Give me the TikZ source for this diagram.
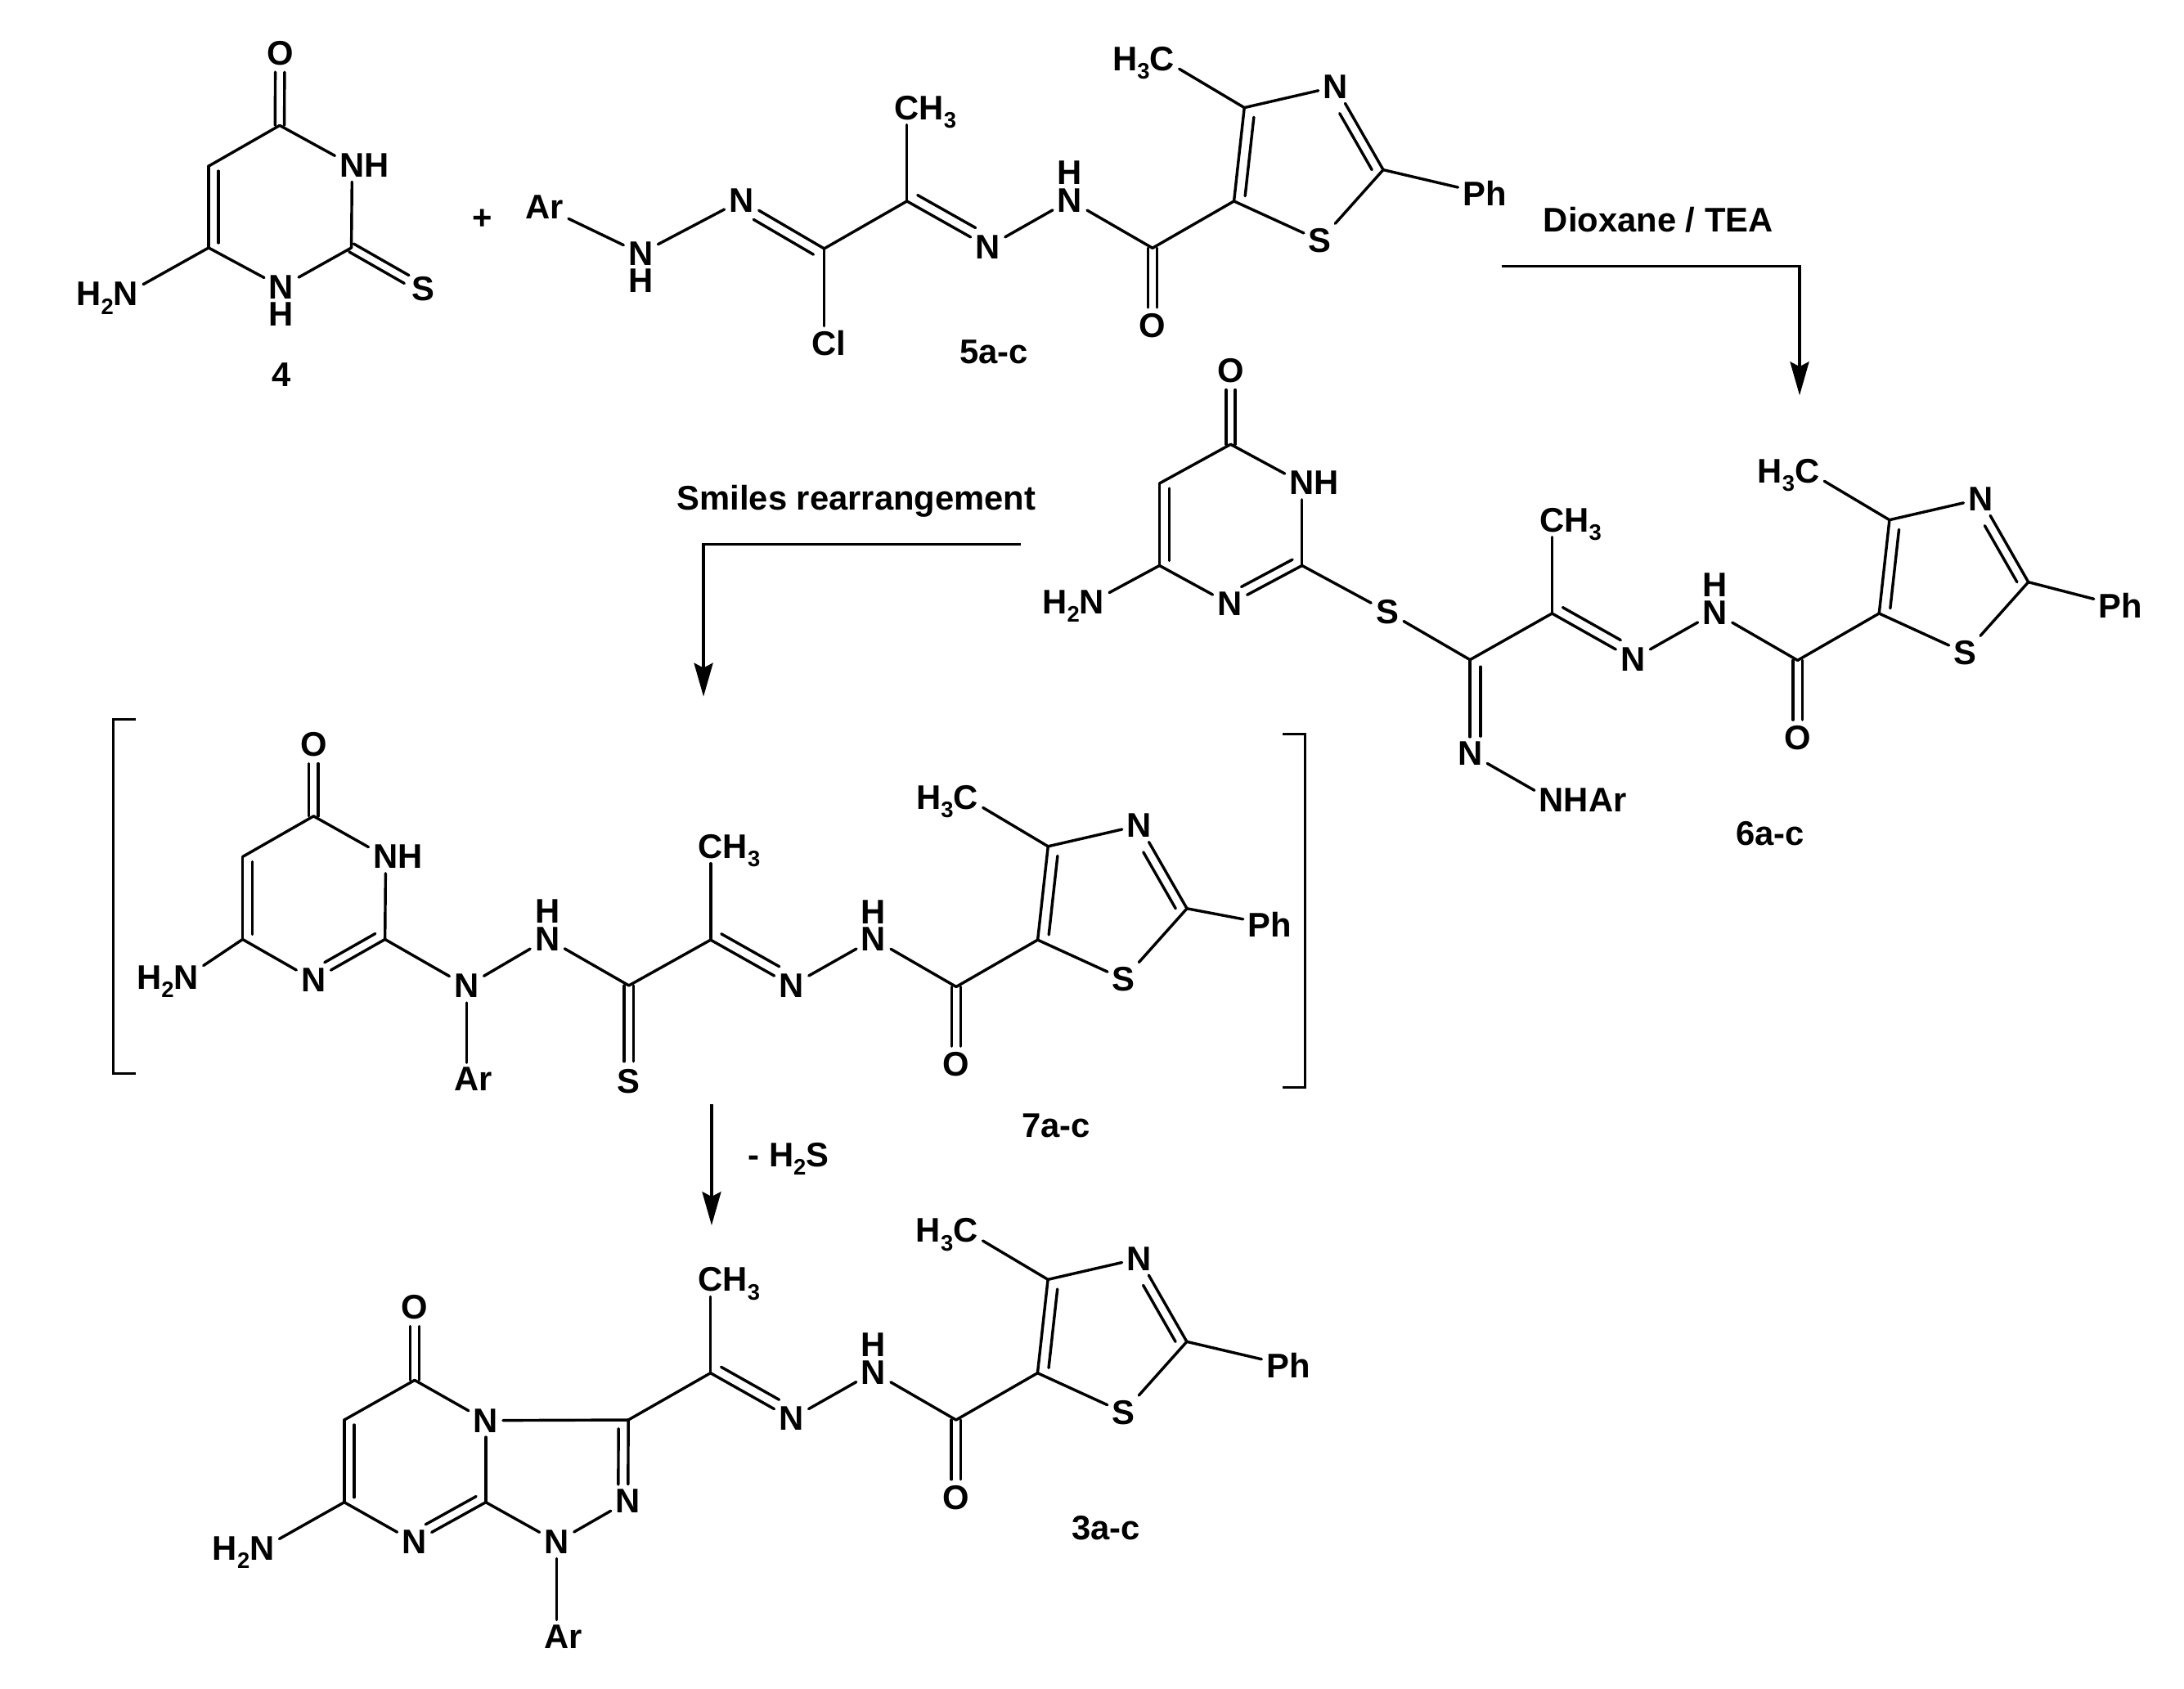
\documentclass[tikz,border=0pt]{standalone}
\usepackage{fontspec}
\setmainfont{Liberation Sans}
\usetikzlibrary{calc,arrows.meta}
\newcommand{\subnum}[1]{\smash{\raisebox{-6pt}{\fontsize{16}{18}\selectfont #1}}}
% an H stacked over or under the N of the same label
\newcommand{\Hup}{\llap{\smash{\raisebox{19.5pt}{H}}}}
\newcommand{\Hdown}{\llap{\smash{\raisebox{-19.5pt}{H}}}}
% second line of a double bond: from a to b, offset, shorten at a, shorten at b
\newcommand{\dbl}[5]{\draw[bond] ($(#1)!#4!(#2)!#3!90:(#2)$) -- ($(#2)!#5!(#1)!#3!-90:(#1)$);}
\tikzset{
  x=1pt,y=-1pt,
  bond/.style={line width=2pt,line cap=round,line join=round,black},
  atom/.style={inner sep=3.5pt,outer sep=0pt,font=\fontsize{24.4}{28}\selectfont\bfseries},
  caption/.style={inner sep=0pt,font=\fontsize{24.4}{28}\selectfont\bfseries},
  arrowline/.style={line width=1.95pt,black,-{Stealth[length=24pt,width=13.5pt,inset=3.5pt]}},
  bracketline/.style={line width=2pt,black}
}
% thiazole / hydrazone fragment, coordinates as in structure 5
\newcommand{\frag}[5]{%
\begin{scope}[shift={(#2,#3)},name prefix=#1-]
  \coordinate (c4) at (888.8,76.9);
  \coordinate (c2) at (988,121.3);
  \coordinate (c5) at (881.4,143.7);
  \coordinate (co) at (823.2,177.2);
  \coordinate (c) at (647.8,143.7);
  \node[atom] (me) at (830,41.9) {\llap{H\subnum{3}}C};
  \node[atom] (n3) at (954,61.9) {N};
  \node[atom] (ph) at (#4,#5) {Ph};
  \node[atom] (s) at (942.9,171.8) {S};
  \node[atom] (o) at (823.2,232.7) {O};
  \node[atom] (nh) at (764.2,143.1) {N\Hup};
  \node[atom] (n) at (705.6,176.3) {N};
  \node[atom] (ch3) at (647.8,77) {C\rlap{H\subnum{3}}};
  \draw[bond] (me) -- (c4);
  \draw[bond] (c4) -- (n3);
  \draw[bond] (n3) -- (c2);
  \dbl{n3}{c2}{-7pt}{18pt}{4pt}
  \draw[bond] (c2) -- (ph);
  \draw[bond] (c2) -- (s);
  \draw[bond] (s) -- (c5);
  \draw[bond] (c5) -- (c4);
  \dbl{c4}{c5}{7.5pt}{6pt}{4.5pt}
  \draw[bond] (c5) -- (co);
  \dbl{co}{o}{3.3pt}{0pt}{13pt}
  \dbl{co}{o}{-3.3pt}{0pt}{13pt}
  \draw[bond] (co) -- (nh);
  \draw[bond] (nh) -- (n);
  \draw[bond] (n) -- (c);
  \dbl{c}{n}{7.5pt}{4.5pt}{14.3pt}
  \draw[bond] (c) -- (ch3);
\end{scope}}
\begin{document}
\begin{tikzpicture}
\useasboundingbox (0,0) rectangle (1560,1206.5);
% ---------- compound 4
\coordinate (a-c4) at (199.8,89.6);
\coordinate (a-c5) at (149,118.7);
\coordinate (a-c6) at (149,177);
\coordinate (a-c2) at (251,177);
\node[atom] (a-o) at (200,38) {O};
\node[atom] (a-n3) at (251.5,118) {N\rlap{H}};
\node[atom] (a-n1) at (201,205) {N\Hdown};
\node[atom] (a-s) at (302.6,206.5) {S};
\node[atom] (a-nh2) at (90,210) {\llap{H\subnum{2}}N};
\draw[bond] (a-c4) -- (a-n3);
\draw[bond] (a-n3) -- (a-c2);
\draw[bond] (a-c2) -- (a-n1);
\draw[bond] (a-n1) -- (a-c6);
\draw[bond] (a-c6) -- (a-c5);
\dbl{a-c5}{a-c6}{7pt}{3.5pt}{3.5pt}
\draw[bond] (a-c5) -- (a-c4);
\dbl{a-c4}{a-o}{3.3pt}{0pt}{13.5pt}
\dbl{a-c4}{a-o}{-3.3pt}{0pt}{13.5pt}
\dbl{a-c2}{a-s}{3.3pt}{0pt}{14pt}
\dbl{a-c2}{a-s}{-3.3pt}{0pt}{14pt}
\draw[bond] (a-c6) -- (a-nh2);
\node[caption] (lab4) at (201,267.8) {4};
\node[caption] (plus) at (344.8,156.8) {+};
% ---------- compound 5
\frag{b}{0}{0}{1060.5}{138.3}
\coordinate (b-cc) at (588.7,177.6);
\node[atom] (b-n2) at (529.7,143.1) {N};
\node[atom] (b-cl) at (588.7,245.4) {C\rlap{l}};
\node[atom] (b-nh) at (457.7,181) {N\Hdown};
\node[atom] (b-ar) at (389,148) {Ar};
\draw[bond] (b-c) -- (b-cc);
\draw[bond] (b-cc) -- (b-n2);
\dbl{b-cc}{b-n2}{7.5pt}{4.5pt}{14.3pt}
\draw[bond] (b-cc) -- (b-cl);
\draw[bond] (b-n2) -- (b-nh);
\draw[bond] (b-nh) -- (b-ar);
\node[caption] (lab5) at (710,251.7) {5a-c};
% ---------- compound 6
\coordinate (d-c4) at (879,317.4);
\coordinate (d-c5) at (828.2,345.3);
\coordinate (d-c6) at (828.2,404);
\coordinate (d-c2) at (930,404);
\node[atom] (d-o) at (879,265) {O};
\node[atom] (d-n3) at (930,345) {N\rlap{H}};
\node[atom] (d-n1) at (878.5,431.5) {N};
\node[atom] (d-nh2) at (780,430) {\llap{H\subnum{2}}N};
\node[atom] (d-s) at (991,437) {S};
\draw[bond] (d-c4) -- (d-n3);
\draw[bond] (d-n3) -- (d-c2);
\draw[bond] (d-c2) -- (d-n1);
\dbl{d-c2}{d-n1}{-7pt}{4pt}{13pt}
\draw[bond] (d-n1) -- (d-c6);
\draw[bond] (d-c6) -- (d-c5);
\dbl{d-c5}{d-c6}{7pt}{3.5pt}{3.5pt}
\draw[bond] (d-c5) -- (d-c4);
\dbl{d-c4}{d-o}{3.3pt}{0pt}{13.5pt}
\dbl{d-c4}{d-o}{-3.3pt}{0pt}{13.5pt}
\draw[bond] (d-c6) -- (d-nh2);
\draw[bond] (d-c2) -- (d-s);
\frag{e}{460.8}{294.5}{1053.9}{138.3}
\coordinate (d-cs) at (1050,471.3);
\node[atom] (d-n5) at (1050,538.3) {N};
\node[atom] (d-nhar) at (1108.3,571.6) {N\rlap{HAr}};
\draw[bond] (d-s) -- (d-cs);
\draw[bond] (d-cs) -- (e-c);
\draw[bond] (d-cs) -- (d-n5);
\dbl{d-cs}{d-n5}{7.5pt}{5pt}{12.4pt}
\draw[bond] (d-n5) -- (d-nhar);
\node[caption] (lab6) at (1264.3,595.4) {6a-c};
% ---------- compound 7
\coordinate (f-c4) at (224,583);
\coordinate (f-c5) at (173.3,612);
\coordinate (f-c6) at (173.3,671);
\coordinate (f-c2) at (275,671);
\node[atom] (f-o) at (224,532) {O};
\node[atom] (f-n3) at (275.5,612) {N\rlap{H}};
\node[atom] (f-n1) at (224,700) {N};
\node[atom] (f-nh2) at (133,698) {\llap{H\subnum{2}}N};
\node[atom] (f-nar) at (333.3,704.4) {N};
\node[atom] (f-ar) at (333.3,771) {A\rlap{r}};
\node[atom] (f-nh) at (391,670.6) {N\Hup};
\coordinate (f-cs) at (449.2,704);
\node[atom] (f-ss) at (449.2,772.2) {S};
\draw[bond] (f-c4) -- (f-n3);
\draw[bond] (f-n3) -- (f-c2);
\draw[bond] (f-c2) -- (f-n1);
\dbl{f-c2}{f-n1}{-7pt}{4pt}{13pt}
\draw[bond] (f-n1) -- (f-c6);
\draw[bond] (f-c6) -- (f-c5);
\dbl{f-c5}{f-c6}{7pt}{3.5pt}{3.5pt}
\draw[bond] (f-c5) -- (f-c4);
\dbl{f-c4}{f-o}{3.3pt}{0pt}{13.5pt}
\dbl{f-c4}{f-o}{-3.3pt}{0pt}{13.5pt}
\draw[bond] (f-c6) -- (f-nh2);
\draw[bond] (f-c2) -- (f-nar);
\draw[bond] (f-nar) -- (f-ar);
\draw[bond] (f-nar) -- (f-nh);
\draw[bond] (f-nh) -- (f-cs);
\dbl{f-cs}{f-ss}{3.3pt}{0pt}{14pt}
\dbl{f-cs}{f-ss}{-3.3pt}{0pt}{14pt}
\frag{g}{-140.2}{527.7}{1047.2}{132.5}
\draw[bond] (f-cs) -- (g-c);
\node[caption] (lab7) at (754.4,804.4) {7a-c};
\coordinate (br1a) at (96.8,514);
\coordinate (br1b) at (80.8,514);
\coordinate (br1c) at (80.8,766.8);
\coordinate (br1d) at (96.8,766.8);
\draw[bracketline] (br1a) -- (br1b) -- (br1c) -- (br1d);
\coordinate (br2a) at (916.3,524.3);
\coordinate (br2b) at (932.3,524.3);
\coordinate (br2c) at (932.3,776.7);
\coordinate (br2d) at (916.3,776.7);
\draw[bracketline] (br2a) -- (br2b) -- (br2c) -- (br2d);
% ---------- compound 3
\coordinate (h-c5) at (296.2,985.9);
\coordinate (h-c6) at (245.9,1014.3);
\coordinate (h-c7) at (245.9,1073.1);
\coordinate (h-c8a) at (347,1073.1);
\coordinate (h-c3) at (448.8,1014.3);
\node[atom] (h-o) at (296.2,933.9) {O};
\node[atom] (h-n4) at (347,1014.7) {N};
\node[atom] (h-n8) at (296,1101.4) {N};
\node[atom] (h-nh2) at (187.2,1106.2) {\llap{H\subnum{2}}N};
\node[atom] (h-n2) at (448.6,1072.2) {N};
\node[atom] (h-n1) at (397.7,1101.4) {N};
\node[atom] (h-ar) at (397.7,1169) {A\rlap{r}};
\draw[bond] (h-c5) -- (h-n4);
\draw[bond] (h-n4) -- (h-c8a);
\draw[bond] (h-c8a) -- (h-n8);
\dbl{h-c8a}{h-n8}{-7pt}{4pt}{13pt}
\draw[bond] (h-n8) -- (h-c7);
\draw[bond] (h-c7) -- (h-c6);
\dbl{h-c6}{h-c7}{7pt}{3.5pt}{3.5pt}
\draw[bond] (h-c6) -- (h-c5);
\dbl{h-c5}{h-o}{3.3pt}{0pt}{13.5pt}
\dbl{h-c5}{h-o}{-3.3pt}{0pt}{13.5pt}
\draw[bond] (h-c7) -- (h-nh2);
\draw[bond] (h-n4) -- (h-c3);
\draw[bond] (h-c3) -- (h-n2);
\dbl{h-c3}{h-n2}{-7pt}{6.2pt}{11.7pt}
\draw[bond] (h-n2) -- (h-n1);
\draw[bond] (h-n1) -- (h-c8a);
\draw[bond] (h-n1) -- (h-ar);
\frag{i}{-140.3}{837.1}{1060.5}{138.3}
\draw[bond] (h-c3) -- (i-c);
\node[caption] (lab3) at (790,1091.4) {3a-c};
% ---------- arrows and their labels
\node[caption] (dioxane) at (1184.5,156.8) {Dioxane / TEA};
\coordinate (ar1a) at (1072.5,190.3);
\coordinate (ar1b) at (1285.4,190.3);
\coordinate (ar1c) at (1285.4,282.4);
\draw[arrowline] (ar1a) -- (ar1b) -- (ar1c);
\node[caption,anchor=base] (smiles) at (611.8,364) {Smiles rearrangement};
\coordinate (ar2a) at (729.4,389);
\coordinate (ar2b) at (502.5,389);
\coordinate (ar2c) at (502.5,497.6);
\draw[arrowline] (ar2a) -- (ar2b) -- (ar2c);
\coordinate (ar3a) at (508.3,788.8);
\coordinate (ar3b) at (508.3,875.3);
\draw[arrowline] (ar3a) -- (ar3b);
\node[caption] (h2s) at (563.2,825) {- H\subnum{2}S};
\end{tikzpicture}
\end{document}
